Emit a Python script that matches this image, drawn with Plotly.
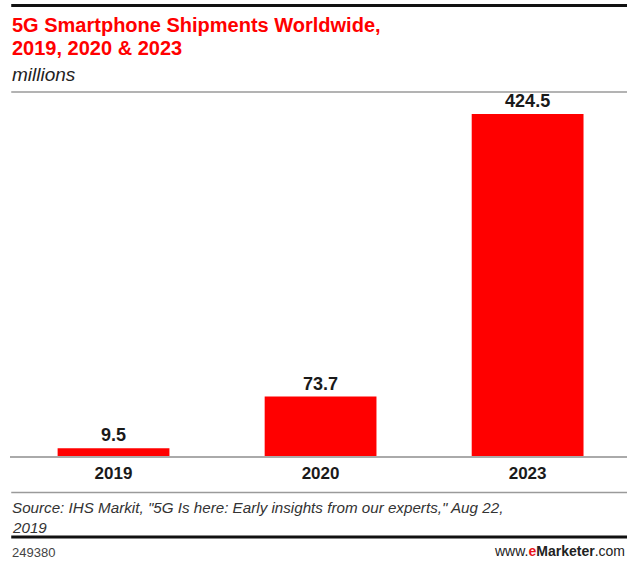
import plotly.graph_objects as go

categories = ["2019", "2020", "2023"]
values = [9.5, 73.7, 424.5]
value_labels = ["9.5", "73.7", "424.5"]

title_line1 = "5G Smartphone Shipments Worldwide,"
title_line2 = "2019, 2020 & 2023"
subtitle = "millions"
source_line1 = 'Source: IHS Markit, "5G Is here: Early insights from our experts," Aug 22,'
source_line2 = "2019"
chart_id = "249380"

W, H = 627, 561
L, R, T, B = 10, 0, 91, 105
PLOT_TOP, PLOT_BOT = T, H - B
PH = PLOT_BOT - PLOT_TOP


def py(y):
    return (PLOT_BOT - y) / PH


FONT = "Liberation Sans, Arial, sans-serif"

fig = go.Figure(
    go.Bar(
        x=categories,
        y=values,
        text=value_labels,
        textposition="outside",
        textfont=dict(family=FONT, size=18, color="#1a1a1a", weight="bold"),
        marker=dict(color="#ff0000", line=dict(width=0)),
        width=0.54,
        cliponaxis=False,
        hoverinfo="skip",
    )
)

shapes = [
    dict(type="line", xref="paper", yref="paper", x0=0.002, x1=1.0, y0=py(5.5), y1=py(5.5),
         line=dict(color="#111111", width=3)),
    dict(type="line", xref="paper", yref="paper", x0=0.002, x1=1.0, y0=py(92), y1=py(92),
         line=dict(color="#9a9a9a", width=1.5)),
    dict(type="line", xref="paper", yref="paper", x0=0.002, x1=1.0, y0=py(492.5), y1=py(492.5),
         line=dict(color="#9a9a9a", width=1.5)),
    dict(type="line", xref="paper", yref="paper", x0=0.002, x1=1.0, y0=py(537), y1=py(537),
         line=dict(color="#111111", width=3)),
]

annotations = [
    dict(text=title_line1, x=0, y=py(25), xref="paper", yref="paper", xanchor="left",
         yanchor="middle", showarrow=False,
         font=dict(family=FONT, size=20, color="#ff0000", weight="bold")),
    dict(text=title_line2, x=0, y=py(48.5), xref="paper", yref="paper", xanchor="left",
         yanchor="middle", showarrow=False,
         font=dict(family=FONT, size=20, color="#ff0000", weight="bold")),
    dict(text="<i>" + subtitle + "</i>", x=0, y=py(74), xref="paper", yref="paper",
         xanchor="left", yanchor="middle", showarrow=False,
         font=dict(family=FONT, size=19, color="#222222")),
    dict(text="<i>" + source_line1 + "</i>", x=0, y=py(507), xref="paper", yref="paper",
         xanchor="left", yanchor="middle", showarrow=False,
         font=dict(family=FONT, size=15.2, color="#333333")),
    dict(text="<i>" + source_line2 + "</i>", x=0, y=py(527), xref="paper", yref="paper",
         xanchor="left", yanchor="middle", showarrow=False,
         font=dict(family=FONT, size=15.2, color="#333333")),
    dict(text=chart_id, x=0, y=py(552), xref="paper", yref="paper", xanchor="left",
         yanchor="middle", showarrow=False,
         font=dict(family=FONT, size=13, color="#444444")),
    dict(text='www.<b><span style="color:#e8141b">e</span>Marketer</b>.com', x=1.0, y=py(551),
         xref="paper", yref="paper", xanchor="right", yanchor="middle", showarrow=False,
         font=dict(family=FONT, size=14, color="#222222")),
]

fig.update_layout(
    width=W,
    height=H,
    margin=dict(l=L, r=R, t=T, b=B, pad=0),
    paper_bgcolor="white",
    plot_bgcolor="white",
    showlegend=False,
    shapes=shapes,
    annotations=annotations,
    bargap=0.46,
    xaxis=dict(
        type="category",
        range=[-0.5, 2.48],
        showline=True,
        linecolor="#aaaaaa",
        linewidth=2,
        ticks="",
        showgrid=False,
        zeroline=False,
        tickfont=dict(family=FONT, size=17, color="#1a1a1a", weight="bold"),
        ticklabelstandoff=1,
    ),
    yaxis=dict(
        range=[0, 453],
        visible=False,
        showgrid=False,
        zeroline=False,
    ),
)

fig.write_html("out.html")
